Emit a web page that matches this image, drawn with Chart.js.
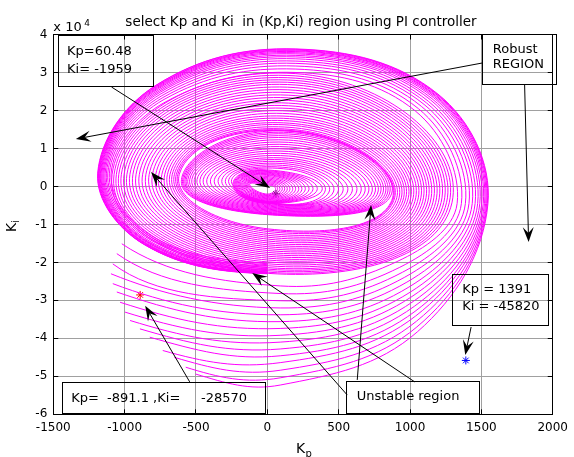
<!DOCTYPE html>
<html>
<head>
<meta charset="UTF-8">
<title>select Kp and Ki in (Kp,Ki) region using PI controller</title>
<script src="https://cdn.jsdelivr.net/npm/chart.js"></script>
<style>
  * { margin:0; padding:0; box-sizing:border-box; }
  body { background:#fff; }
  #wrap { position:relative; width:574px; height:457px; }
</style>
</head>
<body>
<div id="wrap"><canvas id="grafica"></canvas></div>
<script>
// ticks
const xTicks = [-1500, -1000, -500, 0, 500, 1000, 1500, 2000];
const yTicks = [-6, -5, -4, -3, -2, -1, 0, 1, 2, 3, 4];   // x 10^4

// outer spirals: start in the lower left, one turn, then into the lower band (Kp, Ki/1e4)
// points read along each turn: start, bottom, lower right, right, upper right, top, upper left, left, lower left, band end
const cStartKp  = [-1020,-1055,-1083,-1096,-1083,-1055,-1032,-997,-962,-893,-824,-733,-652,-572,-503];
const cStartKi  = [-1.51,-1.77,-2.04,-2.30,-2.56,-2.78,-3.05,-3.31,-3.53,-3.75,-3.97,-4.32,-4.50,-4.76,-4.94];
const cBottomKi = [-2.62,-2.82,-3.01,-3.20,-3.38,-3.56,-3.74,-3.92,-4.10,-4.28,-4.46,-4.64,-4.84,-5.04,-5.23];
const cBrKp     = [908,928,947,963,978,992,1003,1013,1022,1029,1035,1040,1045,1048,1051];
const cBrKi     = [-1.98,-2.13,-2.26,-2.39,-2.52,-2.65,-2.78,-2.90,-3.03,-3.16,-3.29,-3.41,-3.55,-3.70,-3.83];
const cRightKp  = [1330,1360,1388,1413,1436,1456,1474,1489,1502,1513,1522,1530,1537,1542,1546];
const cTrKp     = [1036,1058,1079,1098,1115,1129,1143,1154,1164,1172,1178,1184,1189,1193,1196];
const cTrKi     = [1.99,2.05,2.11,2.16,2.20,2.24,2.28,2.31,2.34,2.36,2.38,2.39,2.41,2.42,2.43];
const cTopKi    = [3.00,3.09,3.17,3.24,3.30,3.36,3.41,3.45,3.49,3.52,3.55,3.57,3.59,3.61,3.62];
const cTlKp     = [-716,-724,-732,-739,-745,-751,-756,-761,-765,-769,-772,-775,-778,-780,-782];
const cTlKi     = [2.22,2.29,2.34,2.39,2.44,2.48,2.51,2.54,2.57,2.59,2.61,2.63,2.64,2.66,2.66];
const cLeftKp   = [-1095,-1107,-1118,-1128,-1137,-1145,-1152,-1159,-1165,-1170,-1175,-1179,-1183,-1186,-1189];
const cBlKp     = [-799,-808,-816,-823,-830,-836,-841,-846,-850,-854,-858,-861,-864,-866,-868];
const cBlKi     = [-1.33,-1.35,-1.38,-1.40,-1.43,-1.45,-1.46,-1.47,-1.49,-1.50,-1.50,-1.51,-1.52,-1.52,-1.52];
const cEndKi    = [-2.02,-2.06,-2.10,-2.13,-2.16,-2.19,-2.21,-2.23,-2.25,-2.26,-2.27,-2.28,-2.29,-2.29,-2.30];
const C_BOTTOM_KP = 90, C_RIGHT_KI = -0.45, C_TOP_KP = 200, C_LEFT_KI = 0.35, C_END_KP = 0;
const C_NEXT = { x: 640, y: -1.7 };   // where the next turn heads (guide only, not drawn)

// middle closed loops (dense lower band)
const aLeftKp   = [-1088,-1074,-1058,-1041,-1023,-1004,-984,-963,-942,-920,-897,-874,-851,-828,-805,-782,-760,-739,-719,-700,-682,-666,-651,-638,-627,-617];
const aTopKi    = [2.97,2.91,2.85,2.79,2.73,2.67,2.60,2.53,2.46,2.39,2.32,2.25,2.18,2.11,2.04,1.97,1.90,1.83,1.77,1.71,1.65,1.60,1.54,1.49,1.46,1.44];
const aRightKp  = [1300,1281,1262,1243,1224,1205,1186,1167,1148,1130,1112,1094,1076,1058,1040,1022,1005,988,971,955,939,923,907,892,884,878];
const aBottomKi = [-2.29,-2.26,-2.22,-2.18,-2.14,-2.09,-2.04,-1.99,-1.94,-1.89,-1.84,-1.79,-1.74,-1.69,-1.64,-1.59,-1.54,-1.49,-1.44,-1.39,-1.34,-1.29,-1.24,-1.19,-1.15,-1.12];
const A_LEFT_KI = 0.32, A_TOP_KP = 200, A_RIGHT_KI = -0.3, A_BOTTOM_KP = 10;

// inner ellipse loops
const iLeftKp   = [-602,-594,-586,-577,-568,-557,-544,-529,-512,-493,-472,-449,-424,-398,-371,-344,-318,-293,-270,-250];
const iTopKi    = [1.46,1.42,1.38,1.33,1.28,1.22,1.16,1.10,1.04,0.98,0.92,0.86,0.80,0.74,0.69,0.64,0.59,0.54,0.49,0.45];
const iRightKp  = [875,860,845,830,813,796,777,757,735,711,685,657,627,595,563,530,497,465,435,405];
const iBottomKi = [-0.76,-0.75,-0.74,-0.73,-0.72,-0.70,-0.68,-0.66,-0.64,-0.62,-0.60,-0.58,-0.56,-0.54,-0.52,-0.50,-0.48,-0.47,-0.46,-0.45];
const I_LEFT_KI = 0.18, I_TOP_KP = 150, I_RIGHT_KI = -0.12, I_BOTTOM_KP = 70;

// core loops
const kLeftKp   = [-240,-233,-226,-219,-212,-204,-196,-188,-180,-172,-164,-156,-148,-140,-132,-124];
const kTopKi    = [0.44,0.42,0.40,0.38,0.36,0.34,0.32,0.30,0.27,0.24,0.21,0.18,0.15,0.12,0.09,0.06];
const kRightKp  = [385,350,320,292,266,242,220,198,178,158,140,122,105,88,72,58];
const kBottomKi = [-0.44,-0.43,-0.42,-0.41,-0.40,-0.39,-0.38,-0.36,-0.34,-0.32,-0.30,-0.28,-0.26,-0.24,-0.22,-0.20];
const K_LEFT_KI = 0.05, K_TOP_KP = -30, K_RIGHT_KI = -0.05, K_BOTTOM_KP = -10;

// selected points
const puntoCentro = { x: 60.48, y: -0.1959 };
const puntoRojo   = { x: -891.1, y: -2.857 };
const puntoAzul   = { x: 1391, y: -4.582 };

const MAGENTA = '#ff00ff';
const FUENTE = '"DejaVu Sans", "Liberation Sans", Arial, sans-serif';

const datasets = [];
const anillo = (l, lKi, t, tKp, r, rKi, b, bKp) => ({
  data: [{x:l, y:lKi}, {x:tKp, y:t}, {x:r, y:rKi}, {x:bKp, y:b}],
  borderColor: MAGENTA, borderWidth: 1, pointRadius: 0, tension: 0.55, cerrado: true
});

// first and last pieces only guide the curve, they are not stroked
const oculto = n => ({ borderColor: ctx => (ctx.p0DataIndex === 0 || ctx.p1DataIndex === n - 1) ? 'rgba(0,0,0,0)' : undefined });

cStartKp.forEach((s, i) => {
  const guia = i < 3 ? { x: cLeftKp[i], y: C_LEFT_KI } : { x: cStartKp[i - 3], y: cStartKi[i - 3] };
  const pts = [
    guia,
    {x:s, y:cStartKi[i]}, {x:C_BOTTOM_KP, y:cBottomKi[i]}, {x:cBrKp[i], y:cBrKi[i]},
    {x:cRightKp[i], y:C_RIGHT_KI}, {x:cTrKp[i], y:cTrKi[i]}, {x:C_TOP_KP, y:cTopKi[i]},
    {x:cTlKp[i], y:cTlKi[i]}, {x:cLeftKp[i], y:C_LEFT_KI}, {x:cBlKp[i], y:cBlKi[i]},
    {x:C_END_KP, y:cEndKi[i]},
    C_NEXT
  ];
  datasets.push({
    data: pts, borderColor: MAGENTA, borderWidth: 1, pointRadius: 0, tension: 0.38,
    segment: oculto(pts.length)
  });
});
aLeftKp.forEach((l, i) => datasets.push(anillo(l, A_LEFT_KI, aTopKi[i], A_TOP_KP, aRightKp[i], A_RIGHT_KI, aBottomKi[i], A_BOTTOM_KP)));
iLeftKp.forEach((l, i) => datasets.push(anillo(l, I_LEFT_KI, iTopKi[i], I_TOP_KP, iRightKp[i], I_RIGHT_KI, iBottomKi[i], I_BOTTOM_KP)));
kLeftKp.forEach((l, i) => datasets.push(anillo(l, K_LEFT_KI, kTopKi[i], K_TOP_KP, kRightKp[i], K_RIGHT_KI, kBottomKi[i], K_BOTTOM_KP)));

const estrella = (p, color) => ({
  data: [p], showLine: false, pointStyle: 'star', pointRadius: 4,
  borderColor: color, backgroundColor: color, pointBorderWidth: 1
});
datasets.push(estrella(puntoCentro, '#000'), estrella(puntoRojo, '#ff0000'), estrella(puntoAzul, '#0000ff'));

// annotations (figure text boxes and arrows), anchored in data units
const cajas = [
  { x0:-1467, x1:-801, y0:3.968, y1:2.636, textos:[['Kp=60.48', 9, 16], ['Ki= -1959', 9, 33.5]] },
  { x0:1510, x1:2031, y0:4.013, y1:2.696, textos:[['Robust', 10, 15.3], ['REGION', 10, 31]] },
  { x0:1301, x1:1977, y0:-2.314, y1:-3.649, textos:[['Kp = 1391', 9.3, 15.2], ['Ki = -45820', 9.3, 32.4]] },
  { x0:-1438, x1:-18, y0:-5.158, y1:-5.98, textos:[['Kp=  -891.1 ,Ki=     -28570', 9, 16.5]] },
  { x0:556, x1:1491, y0:-5.142, y1:-5.98, textos:[['Unstable region', 10, 15]] }
];
const flechas = [
  [-1092, 2.617, 19, -0.042],
  [1505, 3.249, -1342, 1.248],
  [1803, 2.67, 1831, -1.464],
  [1428, -3.702, 1387, -4.439],
  [-544, -5.147, -856, -3.143],
  [560, -5.493, -815, 0.379],
  [1033, -5.147, -106, -2.28],
  [630, -5.095, 727, -0.489]
];

const cerrarAnillos = {
  id: 'cerrarAnillos',
  afterDatasetUpdate(chart, args) {
    const ds = chart.data.datasets[args.index];
    const line = args.meta.dataset;
    if (!ds.cerrado || !line) return;
    line._loop = true;
    line._fullLoop = true;
    line._segments = undefined;
    line._path = undefined;
    line._pointsUpdated = false;
  }
};

const alinear = p => Math.round(p - 0.5) + 0.5;

function flecha(ctx, x0, y0, x1, y1) {
  const ang = Math.atan2(y1 - y0, x1 - x0);
  const L = 15, W = 5.5, N = 9;
  ctx.beginPath();
  ctx.moveTo(x0, y0);
  ctx.lineTo(x1 - Math.cos(ang) * N, y1 - Math.sin(ang) * N);
  ctx.stroke();
  ctx.save();
  ctx.translate(x1, y1);
  ctx.rotate(ang);
  ctx.beginPath();
  ctx.moveTo(0, 0); ctx.lineTo(-L, -W); ctx.lineTo(-N, 0); ctx.lineTo(-L, W);
  ctx.closePath();
  ctx.fill();
  ctx.restore();
}

const marco = {
  id: 'marco',
  afterDraw(chart) {
    const { ctx, chartArea: a, scales: { x, y } } = chart;
    ctx.save();
    ctx.strokeStyle = '#000';
    ctx.fillStyle = '#000';
    ctx.lineWidth = 1;
    // inward ticks on all sides
    ctx.beginPath();
    xTicks.forEach(v => {
      const px = alinear(x.getPixelForValue(v));
      ctx.moveTo(px, a.bottom); ctx.lineTo(px, a.bottom - 5);
      ctx.moveTo(px, a.top); ctx.lineTo(px, a.top + 5);
    });
    yTicks.forEach(v => {
      const py = alinear(y.getPixelForValue(v));
      ctx.moveTo(a.left, py); ctx.lineTo(a.left + 5, py);
      ctx.moveTo(a.right, py); ctx.lineTo(a.right - 5, py);
    });
    ctx.stroke();
    ctx.strokeRect(alinear(a.left), alinear(a.top), Math.round(a.right - a.left), Math.round(a.bottom - a.top));

    // title and axis texts
    ctx.textBaseline = 'alphabetic';
    ctx.font = '13.5px ' + FUENTE;
    ctx.textAlign = 'center';
    ctx.fillText('select Kp and Ki  in (Kp,Ki) region using PI controller', (a.left + a.right) / 2 - 2, 26);
    ctx.textAlign = 'left';
    ctx.font = '13px ' + FUENTE;
    ctx.fillText('x 10', a.left, 31);
    ctx.font = '9px ' + FUENTE;
    ctx.fillText('4', a.left + 31, 26);

    ctx.font = '14px ' + FUENTE;
    ctx.fillText('K', 296, 453);
    ctx.font = '10px ' + FUENTE;
    ctx.fillText('p', 305.5, 457);

    ctx.save();
    ctx.translate(15.5, (a.top + a.bottom) / 2);
    ctx.rotate(-Math.PI / 2);
    ctx.font = '14px ' + FUENTE;
    ctx.fillText('K', -7.5, 0);
    ctx.font = '10px ' + FUENTE;
    ctx.fillText('i', 1.7, 3);
    ctx.restore();

    // annotations
    ctx.font = '13px ' + FUENTE;
    ctx.textBaseline = 'middle';
    cajas.forEach(c => {
      const bx0 = x.getPixelForValue(c.x0), bx1 = x.getPixelForValue(c.x1);
      const by0 = y.getPixelForValue(c.y0), by1 = y.getPixelForValue(c.y1);
      ctx.strokeRect(alinear(bx0), alinear(by0), Math.round(bx1 - bx0), Math.round(by1 - by0));
      c.textos.forEach(([t, dx, dy]) => ctx.fillText(t, bx0 + dx, by0 + dy));
    });
    flechas.forEach(([k0, i0, k1, i1]) => {
      flecha(ctx, x.getPixelForValue(k0), y.getPixelForValue(i0), x.getPixelForValue(k1), y.getPixelForValue(i1));
    });
    ctx.restore();
  }
};

new Chart(document.getElementById('grafica'), {
  type: 'line',
  data: { datasets },
  options: {
    responsive: true,
    maintainAspectRatio: false,
    animation: false,
    events: [],
    layout: { padding: { top: 34.5, right: 16.7, left: 0, bottom: 0 } },
    plugins: { legend: { display: false }, tooltip: { enabled: false }, title: { display: false } },
    scales: {
      x: {
        type: 'linear', min: -1500, max: 2000,
        afterFit: s => { s.height = 42.7; },
        afterBuildTicks: s => { s.ticks = xTicks.map(v => ({ value: v })); },
        ticks: { callback: v => String(v), color: '#000', font: { family: FUENTE, size: 12 }, padding: 6, maxRotation: 0, autoSkip: false },
        grid: { color: '#a0a0a0', lineWidth: 1, drawTicks: false },
        border: { display: false }
      },
      y: {
        type: 'linear', min: -6, max: 4,
        afterFit: s => { s.width = 53.3; },
        afterBuildTicks: s => { s.ticks = yTicks.map(v => ({ value: v })); },
        ticks: { callback: v => String(v), color: '#000', font: { family: FUENTE, size: 12 }, padding: 6, autoSkip: false },
        grid: { color: '#a0a0a0', lineWidth: 1, drawTicks: false },
        border: { display: false }
      }
    }
  },
  plugins: [cerrarAnillos, marco]
});
</script>
</body>
</html>
